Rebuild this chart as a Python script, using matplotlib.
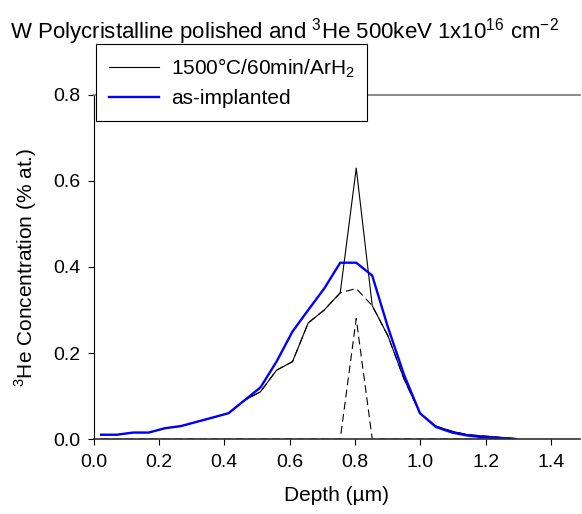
import matplotlib
matplotlib.use("Agg")
import matplotlib.pyplot as plt

plt.rcParams['font.family'] = ['Liberation Sans', 'DejaVu Sans']
plt.rcParams['mathtext.fontset'] = 'custom'
plt.rcParams['mathtext.rm'] = 'Liberation Sans'

# depth points (um)
depth = [0.023, 0.072, 0.121, 0.169, 0.218, 0.267, 0.316, 0.365, 0.413,
         0.462, 0.511, 0.560, 0.609, 0.657, 0.706, 0.755, 0.804, 0.853,
         0.901, 0.950, 0.999, 1.048, 1.097, 1.145, 1.194, 1.243, 1.292]

# annealed 1500C / 60 min / ArH2
annealed = [0.010, 0.010, 0.015, 0.015, 0.025, 0.030, 0.040, 0.050, 0.060,
            0.090, 0.110, 0.160, 0.180, 0.270, 0.300, 0.340, 0.630, 0.310,
            0.240, 0.140, 0.060, 0.030, 0.018, 0.010, 0.007, 0.004, 0.001]

# broad component of the annealed profile (dashed)
broad = [0.010, 0.010, 0.015, 0.015, 0.025, 0.030, 0.040, 0.050, 0.060,
         0.090, 0.110, 0.160, 0.180, 0.270, 0.300, 0.340, 0.350, 0.310,
         0.240, 0.140, 0.060, 0.030, 0.018, 0.010, 0.007, 0.004, 0.001]

# narrow component (dashed)
narrow = [0, 0, 0, 0, 0, 0, 0, 0, 0, 0, 0, 0, 0, 0, 0, 0, 0.280, 0,
          0, 0, 0, 0, 0, 0, 0, 0, 0]

# as-implanted
implanted = [0.010, 0.010, 0.015, 0.015, 0.025, 0.030, 0.040, 0.050, 0.060,
             0.090, 0.120, 0.180, 0.250, 0.300, 0.350, 0.410, 0.410, 0.380,
             0.260, 0.150, 0.060, 0.028, 0.015, 0.008, 0.004, 0.002, 0.000]

xticks = [0.0, 0.2, 0.4, 0.6, 0.8, 1.0, 1.2, 1.4]
yticks = [0.0, 0.2, 0.4, 0.6, 0.8]

fig = plt.figure(figsize=(5.82, 5.14), dpi=100)
ax = fig.add_axes([0.1608, 0.1459, 0.8358, 0.6693])

ax.plot(depth, broad, color='black', lw=0.8, dashes=(7, 4))
ax.plot(depth, narrow, color='black', lw=0.8, dashes=(7, 4), zorder=1)
l1, = ax.plot(depth, annealed, color='black', lw=0.8)
l2, = ax.plot(depth, implanted, color='#0000ff', lw=1.7)

ax.set_xlim(0, 1.489)
ax.set_ylim(0, 0.8)
ax.set_xticks(xticks)
ax.set_yticks(yticks)
ax.set_xticklabels(['%.1f' % v for v in xticks])
ax.set_yticklabels(['%.1f' % v for v in yticks])
ax.tick_params(direction='out', length=4.5, width=0.8, labelsize=14)
ax.tick_params(axis='x', pad=6)
ax.tick_params(axis='y', pad=5)

ax.spines['right'].set_visible(False)
ax.spines['top'].set_color('#808080')
ax.spines['top'].set_linewidth(1.3)
ax.spines['bottom'].set_color('#303030')
ax.spines['bottom'].set_linewidth(1.2)
ax.spines['left'].set_color('black')

ax.set_xlabel('Depth (µm)', fontsize=15, labelpad=11)
ax.set_ylabel('$^{3}$He Concentration (% at.)', fontsize=15, labelpad=10)
fig.text(0.488, 1 - 32 / 514, 'W Polycristalline polished and $^{3}$He 500keV 1x10$^{16}$ cm$^{-2}$',
         ha='center', va='center', fontsize=16)

leg = fig.legend([l1, l2], ['1500°C/60min/ArH$_{2}$', 'as-implanted'],
                 loc='upper left', bbox_to_anchor=(96 / 582, 1 - 44 / 514),
                 fontsize=15, frameon=True, fancybox=False, handlelength=2.4,
                 borderaxespad=0, borderpad=0.6, labelspacing=0.45, handletextpad=0.6)
leg.get_frame().set_edgecolor('black')
leg.get_frame().set_linewidth(0.8)
leg.get_frame().set_alpha(1)

fig.savefig('out.png', dpi=100)
